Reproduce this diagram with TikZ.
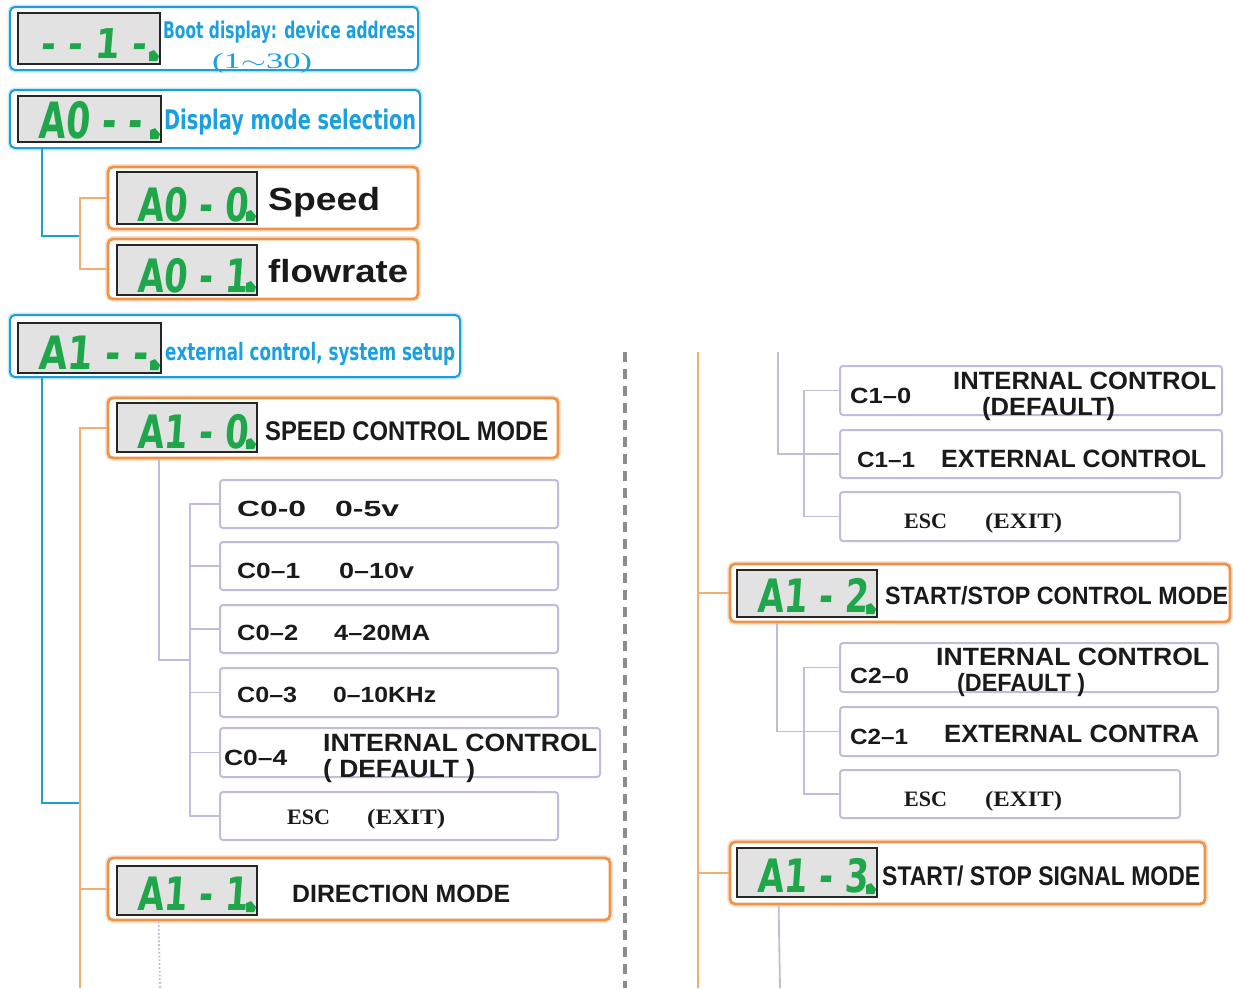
\documentclass[tikz,border=0pt]{standalone}
\usepackage{fontspec}
\usepackage{graphicx}
\usetikzlibrary{fit,calc}
\setmainfont{Liberation Sans}
\newfontfamily\lserif{Liberation Serif}
\newfontfamily\lcdf{DejaVu Sans}[FakeSlant=0.1]
\newfontfamily\heavyf{DejaVu Sans}
\newcommand\fitto[2]{\resizebox{#1}{\height}{#2}}
\newcommand\tx[5]{\node[#1] (#2) at (#3) {\fitto{#4pt}{#5}};}
\definecolor{bluec}{HTML}{1E9ED9}
\definecolor{bluet}{HTML}{1AA0E0}
\definecolor{orc}{HTML}{EE9448}
\definecolor{orl}{HTML}{F3AE72}
\definecolor{lavc}{HTML}{BEBEDA}
\definecolor{lcdfill}{HTML}{E2E2E2}
\definecolor{lcdgreen}{HTML}{1FA64A}
\definecolor{txtc}{HTML}{1A1A1A}
\definecolor{sepc}{HTML}{8C8C8C}
\newcommand\lcddot[1]{\fill[lcdgreen] (#1.south east) ++(-12,-4) -- ++(0,-9) -- ++(5,-2) -- ++(5,6) -- ++(-2,5) -- cycle;}
\tikzset{
 bluebox/.style={draw=bluec, line width=2pt, rounded corners=5pt, fill=white, inner sep=0pt, preaction={draw=bluec!25, line width=5pt}},
 orbox/.style={draw=orc, line width=2.8pt, rounded corners=5pt, fill=white, inner sep=0pt, preaction={draw=orc!25, line width=6pt}},
 lavbox/.style={draw=lavc, line width=2pt, rounded corners=3pt, fill=white, inner sep=0pt},
 lcd/.style={draw=black!85, line width=2.2pt, fill=lcdfill, inner sep=0pt},
 lcdtxt/.style={text=lcdgreen, font=\lcdf\bfseries\fontsize{46}{46}\selectfont, inner sep=0pt, anchor=base west},
 btxt/.style={text=bluet, font=\heavyf\bfseries\fontsize{24}{24}\selectfont, inner sep=0pt, anchor=base west},
 ktxt/.style={text=txtc, font=\bfseries\fontsize{25}{25}\selectfont, inner sep=0pt, anchor=base west},
 ctxt/.style={text=txtc, font=\bfseries\fontsize{22}{22}\selectfont, inner sep=0pt, anchor=base west},
 stxt/.style={text=txtc, font=\lserif\bfseries\fontsize{22}{22}\selectfont, inner sep=0pt, anchor=base west},
 blueline/.style={draw=bluec, line width=2pt},
 orline/.style={draw=orl, line width=2.8pt},
 lavline/.style={draw=lavc, line width=1.8pt},
 sepline/.style={draw=sepc, line width=4pt, dash pattern=on 10pt off 7pt},
}
\begin{document}
\begin{tikzpicture}[x=1pt,y=-1pt]
\useasboundingbox[fill=white] (0,0) rectangle (1233,988);
% ---------- separator and long lines ----------
\coordinate (sT) at (625,352); \coordinate (sB) at (625,988);
\draw[sepline] (sT) -- (sB);
\coordinate (rTop) at (698,352); \coordinate (rBot) at (698,988);
\draw[orline] (rTop) -- (rBot);
% ---------- boxes left ----------
\node[bluebox, fit={(10,7) (418,70)}] (b1) {};
\node[lcd, fit={(18,13) (160,64)}] (d1) {};
\node[bluebox, fit={(10,90) (420,148)}] (b2) {};
\node[lcd, fit={(18,96) (161,142)}] (d2) {};
\coordinate (jA) at (80,236);
\draw[blueline] ([xshift=33pt]b2.south west) |- (jA);
\node[orbox, fit={(108,167) (418,229)}] (b3) {};
\node[lcd, fit={(117,172) (257,224)}] (d3) {};
\node[orbox, fit={(108,239) (418,299)}] (b4) {};
\node[lcd, fit={(117,245) (257,295)}] (d4) {};
\draw[orline] (b3.west) -| (jA) |- (b4.west);
\node[bluebox, fit={(10,315) (460,377)}] (b5) {};
\node[lcd, fit={(18,323) (161,373)}] (d5) {};
\coordinate (jB) at (80,803);
\coordinate (jBot) at (80,988);
\draw[blueline] ([xshift=33pt]b5.south west) |- (jB);
\node[orbox, fit={(108,398) (558,458)}] (b6) {};
\node[lcd, fit={(117,403) (257,452)}] (d6) {};
\node[orbox, fit={(108,858) (610,920)}] (b7) {};
\node[lcd, fit={(117,866) (257,915)}] (d7) {};
\draw[orline] (b6.west) -| (jBot);
\draw[orline] (b7.west) -- (b7.west -| jBot);
\node[lavbox, fit={(220,480) (558,528)}] (c00) {};
\node[lavbox, fit={(220,542) (558,590)}] (c01) {};
\node[lavbox, fit={(220,605) (558,653)}] (c02) {};
\node[lavbox, fit={(220,668) (558,717)}] (c03) {};
\node[lavbox, fit={(220,728) (600,777)}] (c04) {};
\node[lavbox, fit={(220,792) (558,840)}] (c05) {};
\coordinate (jC) at (190,660);
\draw[lavline] ([xshift=52pt]b6.south west) |- (jC);
\draw[lavline] (c00.west) -| (c05.west -| jC) -- (c05.west);
\foreach \n in {c01,c02,c03,c04} \draw[lavline] (\n.west) -- (\n.west -| jC);
\coordinate (dBot) at (160,988);
\draw[lavline, dotted] ([xshift=52pt]b7.south west) -- (dBot);
% ---------- boxes right ----------
\node[lavbox, fit={(840,366) (1222,415)}] (c10) {};
\node[lavbox, fit={(840,430) (1222,478)}] (c11) {};
\node[lavbox, fit={(840,492) (1180,541)}] (e1) {};
\coordinate (lTop) at (778,352);
\coordinate (jD) at (804,452);
\draw[lavline] (lTop) |- (c11.west);
\draw[lavline] (c10.west) -| (e1.west -| jD) -- (e1.west);
\node[orbox, fit={(730,564) (1230,622)}] (b12) {};
\node[lcd, fit={(737,570) (877,617)}] (d12) {};
\draw[orline] (b12.west) -- (b12.west -| rTop);
\node[lavbox, fit={(840,643) (1218,692)}] (c20) {};
\node[lavbox, fit={(840,707) (1218,756)}] (c21) {};
\node[lavbox, fit={(840,770) (1180,818)}] (e2) {};
\draw[lavline] ([xshift=48pt]b12.south west) |- (c21.west);
\draw[lavline] (c20.west) -| (e2.west -| jD) -- (e2.west);
\node[orbox, fit={(730,842) (1205,904)}] (b13) {};
\node[lcd, fit={(737,848) (877,897)}] (d13) {};
\draw[orline] (b13.west) -- (b13.west -| rTop);
\coordinate (lBot) at (780,988);
\draw[lavline] ([xshift=50pt]b13.south west) -- (lBot);
% ---------- LCD texts ----------
\tx{lcdtxt, font=\lcdf\bfseries\fontsize{41}{41}\selectfont}{L1}{40,58}{106}{- - 1 -}
\tx{lcdtxt, font=\lcdf\bfseries\fontsize{50}{50}\selectfont}{L2}{38,138}{104}{A0 - -}
\tx{lcdtxt}{L3}{137,221}{111}{A0 - 0}
\tx{lcdtxt}{L4}{137,292}{111}{A0 - 1}
\tx{lcdtxt}{L5}{38,369}{110}{A1 - -}
\tx{lcdtxt}{L6}{137,448}{111}{A1 - 0}
\tx{lcdtxt}{L7}{137,910}{111}{A1 - 1}
\tx{lcdtxt}{L12}{757,612}{111}{A1 - 2}
\tx{lcdtxt}{L13}{757,892}{111}{A1 - 3}
\foreach \n in {d1,d2,d3,d4,d5,d6,d7,d12,d13} {\lcddot{\n}}
% ---------- labels left ----------
\tx{btxt, font=\heavyf\bfseries\fontsize{23}{23}\selectfont}{T1}{163,38}{252}{Boot display: device address}
\tx{btxt, font=\lserif\fontsize{22}{22}\selectfont}{T1b}{212,68}{100}{(1$\sim$30)}
\tx{btxt, font=\heavyf\bfseries\fontsize{27}{27}\selectfont}{T2}{164,129}{252}{Display mode selection}
\tx{ktxt, font=\bfseries\fontsize{32}{32}\selectfont}{T3}{268,210}{112}{Speed}
\tx{ktxt, font=\bfseries\fontsize{32}{32}\selectfont}{T4}{268,282}{140}{flowrate}
\tx{btxt}{T5}{165,360}{290}{external control, system setup}
\tx{ktxt, font=\bfseries\fontsize{27}{27}\selectfont}{T6}{265,440}{283}{SPEED CONTROL MODE}
\tx{ktxt}{T7}{292,902}{218}{DIRECTION MODE}
\tx{ctxt}{C00a}{237,516}{69}{C0-0}
\tx{ctxt}{C00b}{335,516}{64}{0-5v}
\tx{ctxt}{C01a}{237,578}{63}{C0–1}
\tx{ctxt}{C01b}{339,578}{75}{0–10v}
\tx{ctxt}{C02a}{237,640}{61}{C0–2}
\tx{ctxt}{C02b}{334,640}{96}{4–20MA}
\tx{ctxt}{C03a}{237,702}{60}{C0–3}
\tx{ctxt}{C03b}{333,702}{103}{0–10KHz}
\tx{ctxt}{C04a}{224,765}{63}{C0–4}
\tx{ktxt}{C04b}{323,751}{274}{INTERNAL CONTROL}
\tx{ktxt}{C04c}{323,777}{152}{( DEFAULT )}
\tx{stxt}{C05a}{287,824}{43}{ESC}
\tx{stxt}{C05b}{367,824}{78}{(EXIT)}
% ---------- labels right ----------
\tx{ctxt}{C10a}{850,403}{61}{C1–0}
\tx{ktxt}{C10b}{953,389}{263}{INTERNAL CONTROL}
\tx{ktxt}{C10c}{982,415}{133}{(DEFAULT)}
\tx{ctxt}{C11a}{857,467}{58}{C1–1}
\tx{ktxt}{C11b}{941,467}{265}{EXTERNAL CONTROL}
\tx{stxt}{E1a}{904,528}{43}{ESC}
\tx{stxt}{E1b}{985,528}{77}{(EXIT)}
\tx{ktxt}{T12}{885,604}{343}{START/STOP CONTROL MODE}
\tx{ctxt}{C20a}{850,683}{59}{C2–0}
\tx{ktxt}{C20b}{936,665}{273}{INTERNAL CONTROL}
\tx{ktxt}{C20c}{957,691}{128}{(DEFAULT )}
\tx{ctxt}{C21a}{850,744}{58}{C2–1}
\tx{ktxt}{C21b}{944,742}{255}{EXTERNAL CONTRA}
\tx{stxt}{E2a}{904,806}{43}{ESC}
\tx{stxt}{E2b}{985,806}{77}{(EXIT)}
\tx{ktxt, font=\bfseries\fontsize{27}{27}\selectfont}{T13}{882,885}{318}{START/ STOP SIGNAL MODE}
\end{tikzpicture}
\end{document}
